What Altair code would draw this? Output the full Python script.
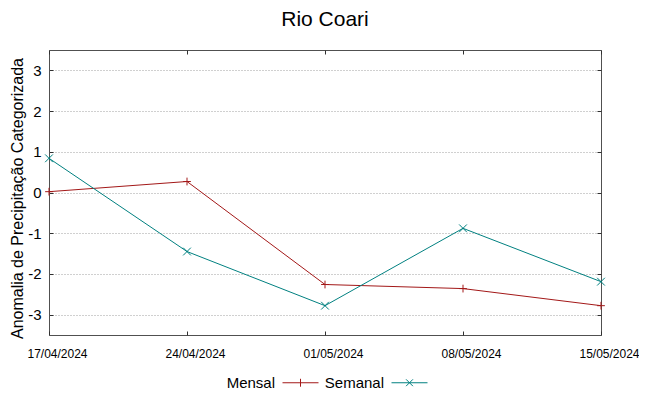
import altair as alt
import pandas as pd

dates = ["17/04/2024", "24/04/2024", "01/05/2024", "08/05/2024", "15/05/2024"]
mensal = [0.02, 0.27, -2.26, -2.36, -2.78]
semanal = [0.84, -1.45, -2.78, -0.88, -2.19]
series = ["Mensal", "Semanal"]
colors = ["#a31818", "#008080"]
y_ticks = [-3, -2, -1, 0, 1, 2, 3]

rows = []
for d, v in zip(dates, mensal):
    rows.append({"data": d, "valor": v, "serie": "Mensal"})
for d, v in zip(dates, semanal):
    rows.append({"data": d, "valor": v, "serie": "Semanal"})
df = pd.DataFrame(rows)

marker_paths = ["M-1,0L1,0M0,-1L0,1", "M-1,-1L1,1M-1,1L1,-1"]
legend_paths = ["M-1,0L1,0M0,-0.22L0,0.22", "M-1,0L1,0M-0.19,-0.19L0.19,0.19M-0.19,0.19L0.19,-0.19"]

font = "Liberation Sans"
tick_in = {"expr": "-4"}
tick_color = "#303030"

x_scale = alt.Scale(type="point", padding=0)
y_scale = alt.Scale(domain=[-3.5, 3.5], nice=False, zero=False)

x_main = alt.X("data:O", sort=dates, scale=x_scale,
               axis=alt.Axis(title=None, labelAngle=0, labelFontSize=12, labelFont=font,
                             labelColor="#000", ticks=True, tickSize=tick_in,
                             tickColor=tick_color, domain=False, labelPadding=17,
                             labelOffset=8, grid=False))
y_main = alt.Y("valor:Q", scale=y_scale,
               axis=alt.Axis(title="Anomalia de Precipitação Categorizada", values=y_ticks,
                             labelExpr="'' + datum.value",
                             titleFontSize=16, titleFont=font, titleFontWeight="normal",
                             titleColor="#000", labelFontSize=15, labelFont=font,
                             labelColor="#000", ticks=True, tickSize=tick_in,
                             tickColor=tick_color, domain=False, labelPadding=12,
                             titlePadding=2, titleY=148, grid=True, gridColor="#a0a0a0",
                             gridDash=[1, 2], gridWidth=1))

x_top = alt.X("data:O", sort=dates, scale=x_scale,
              axis=alt.Axis(orient="top", title=None, labels=False, ticks=True,
                            tickSize=tick_in, tickColor=tick_color, domain=False, grid=False))
y_right = alt.Y("valor:Q", scale=y_scale,
                axis=alt.Axis(orient="right", title=None, labels=False, values=y_ticks,
                              ticks=True, tickSize=tick_in, tickColor=tick_color,
                              domain=False, grid=False))

color_scale = alt.Scale(domain=series, range=colors)

lines = alt.Chart(df).mark_line(strokeWidth=1).encode(
    x=x_main, y=y_main,
    color=alt.Color("serie:N", scale=color_scale, legend=None),
)

points = alt.Chart(df).mark_point(filled=False, strokeWidth=1, size=60, opacity=1).encode(
    x=x_top, y=y_right,
    color=alt.Color("serie:N", scale=color_scale, legend=None),
    shape=alt.Shape("serie:N", scale=alt.Scale(domain=series, range=marker_paths), legend=None),
)

leg = dict(title=None, orient="none", direction="horizontal",
           legendX=233, legendY=314, symbolSize=1296,
           symbolStrokeWidth=1, labelFontSize=15, labelFont=font,
           labelColor="#000", labelAlign="right",
           labelOffset={"expr": "-44"}, columnPadding=3)

legend_layer = alt.Chart(df).transform_filter("datum.valor > 100").mark_point(
    filled=False, strokeWidth=1, opacity=1).encode(
    x=alt.X("data:O", sort=dates, scale=x_scale, axis=None),
    y=alt.Y("valor:Q", scale=y_scale, axis=None),
    color=alt.Color("serie:N", scale=color_scale, legend=alt.Legend(**leg)),
    shape=alt.Shape("serie:N", scale=alt.Scale(domain=series, range=legend_paths),
                    legend=alt.Legend(**leg)),
)

chart = alt.layer(lines, points, legend_layer).resolve_scale(
    color="independent", shape="independent"
).resolve_axis(
    x="independent", y="independent"
).properties(
    width=552, height=285,
    title=alt.Title("Rio Coari", fontSize=21, font=font, fontWeight="normal", color="#000",
                    anchor="middle", offset=20),
    autosize=alt.AutoSizeParams(type="none"),
    padding={"left": 41, "top": 42, "right": 38, "bottom": 53},
).configure_view(stroke="#505050", strokeWidth=1)

chart.save("out.html", embed_options={"renderer": "svg", "actions": False})
